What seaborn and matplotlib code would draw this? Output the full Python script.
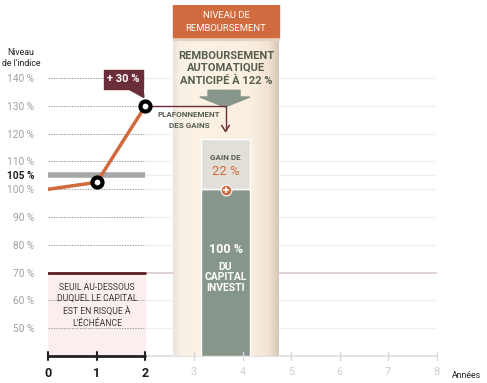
import numpy as np
import pandas as pd
import matplotlib
matplotlib.use("Agg")
import matplotlib.pyplot as plt
import seaborn as sns
from matplotlib.patches import Rectangle, Polygon

# data
years = [0, 1, 2]
index_level = [100, 102.5, 130]
grid_levels = [50, 60, 80, 90, 100, 110, 120, 130, 140]
ytick_levels = [50, 60, 70, 80, 90, 100, 105, 110, 120, 130, 140]
year_ticks = [0, 1, 2, 3, 4, 5, 6, 7, 8]
barrier = 70
reference_level = 105
capital = 100
gain_top = 118
gain_pct = 22
jump_pct = 30

sns.set_theme(style="white")
plt.rcParams['font.family'] = ['Roboto', 'DejaVu Sans']

ORANGE = '#cf6b3e'
GREEN = '#87968b'
MAROON = '#6a2e3a'
OLIVE = '#565c50'

fig = plt.figure(figsize=(4.87, 3.83), dpi=100)
ax = fig.add_axes([48.3 / 487, 27 / 383, 388.4 / 487, 351 / 383])
ax.set_xlim(0, 8)
ax.set_ylim(40, 166.3)
for s in ax.spines.values():
    s.set_visible(False)

# faint lines on the right side
for lv in grid_levels:
    ax.plot([2, 8], [lv, lv], color='#f3f0ec', lw=1, zorder=0)
ax.plot([2, 8], [reference_level, reference_level], color='#efefef', lw=1, zorder=0)
ax.plot([2, 8], [barrier, barrier], color='#dccbcb', lw=1.2, zorder=0)
ax.plot([2, 8], [40, 40], color='#dddddd', lw=1.2, zorder=0, clip_on=False)

# dotted grid on the observed period
for lv in grid_levels:
    ax.plot([0, 2], [lv, lv], color='#a0a0a0', lw=0.7, ls=(0, (1.5, 1.2)), zorder=1)

# risk zone under barrier
ax.add_patch(Rectangle((0, 40), 2, barrier - 40, color='#fbeeee', zorder=0.5))
ax.plot([0, 2], [barrier, barrier], color='#5a1c22', lw=2, zorder=2)
ax.text(1, 58.3, "SEUIL AU-DESSOUS\nDUQUEL LE CAPITAL\nEST EN RISQUE À\nL'ÉCHÉANCE",
        ha='center', va='center', fontsize=6.2, color='#3a3a3a', linespacing=1.4, zorder=3)

# reference band at 105
ax.plot([0, 2], [reference_level, reference_level], color='#a7a7a7', lw=4, zorder=2,
        solid_capstyle='butt')

# early redemption column with shaded edges
c0, c1 = 2.57, 4.75
pos = [0, 0.06, 0.2, 0.75, 0.9, 1]
reds = [0.92, 0.97, 0.985, 0.98, 0.95, 0.84]
grns = [0.89, 0.94, 0.95, 0.935, 0.895, 0.78]
blus = [0.86, 0.90, 0.90, 0.875, 0.83, 0.72]
u = np.linspace(0, 1, 200)
grad = np.dstack([np.interp(u, pos, reds), np.interp(u, pos, grns), np.interp(u, pos, blus)])
ax.imshow(grad, extent=[c0, c1, 40, 155], aspect='auto', zorder=3)
ax.add_patch(Rectangle((c0, 153.6), c1 - c0, 1.2, color='#e3d2c0', zorder=3.5))
ax.add_patch(Rectangle((c0, 154.7), c1 - c0, 11.6, color=ORANGE, zorder=4))
ax.text((c0 + c1) / 2, 160.3, "NIVEAU DE\nREMBOURSEMENT", ha='center', va='center',
        fontsize=6.8, color='white', linespacing=1.55, zorder=5)
ax.text((c0 + c1) / 2, 143.6, "REMBOURSEMENT\nAUTOMATIQUE\nANTICIPÉ À 122 %", ha='center',
        va='center', fontsize=8, fontweight='bold', color=OLIVE, linespacing=1.3, zorder=5)
ax.add_patch(Polygon([(3.29, 135.6), (3.95, 135.6), (3.95, 133.2), (4.15, 133.2),
                      (3.64, 129.6), (3.12, 133.2), (3.29, 133.2)],
                     closed=True, color=GREEN, zorder=5))

# bars: capital and gain
bars = pd.DataFrame({'x': [3.65, 3.65], 'bottom': [40, capital],
                     'h': [capital - 40, gain_top - capital], 'c': [GREEN, '#e2dfd9']})
for _, r in bars.iterrows():
    ax.bar(r['x'], r['h'], bottom=r['bottom'], width=1.0, color=r['c'], zorder=6)
ax.text(3.65, 111.6, "GAIN DE", ha='center', va='center', fontsize=5.8, fontweight='bold',
        color=OLIVE, zorder=7)
ax.text(3.65, 106.3, f"{gain_pct} %", ha='center', va='center', fontsize=9.5, color=ORANGE, zorder=7)
ax.scatter([3.65], [99.8], s=60, color=ORANGE, edgecolor='white', linewidth=0.8, zorder=8)
ax.scatter([3.65], [99.8], s=18, marker='+', color='white', linewidth=1.2, zorder=9)
ax.text(3.65, 78.4, f"{capital} %", ha='center', va='center', fontsize=9, fontweight='bold',
        color='white', zorder=7)
ax.text(3.65, 68.3, "DU\nCAPITAL\nINVESTI", ha='center', va='center', fontsize=7.5,
        fontweight='bold', color='white', linespacing=1.1, zorder=7)

# index path
df = pd.DataFrame({'annee': years, 'niveau': index_level})
sns.lineplot(data=df, x='annee', y='niveau', color=ORANGE, lw=2.5, ax=ax, zorder=10)
ax.scatter(years[1:], index_level[1:], s=85, color='black', zorder=11)
ax.scatter(years[1:], index_level[1:], s=10, color='white', zorder=12)

# cap arrow
ax.plot([2, 3.65, 3.65], [130, 130, 121.5], color=MAROON, lw=1, zorder=9)
ax.plot([3.57, 3.65, 3.73], [123, 120.8, 123], color=MAROON, lw=1.1, zorder=9)
ax.text(2.9, 124.8, "PLAFONNEMENT\nDES GAINS", ha='center', va='center', fontsize=5.8,
        fontweight='bold', color=OLIVE, linespacing=1.7, zorder=9)

# +30 % label
ax.add_patch(Rectangle((1.15, 136.2), 0.8, 6.8, color=MAROON, zorder=9))
ax.add_patch(Polygon([(1.63, 136.3), (1.95, 136.3), (1.97, 133.0)], closed=True,
                     color=MAROON, zorder=9))
ax.text(1.55, 139.6, f"+ {jump_pct} %", ha='center', va='center', fontsize=8,
        fontweight='bold', color='white', zorder=10)

# axes
ax.set_xlabel('')
ax.set_ylabel('')
ax.set_yticks(ytick_levels)
ax.set_yticklabels([f"{v} %" for v in ytick_levels])
ax.tick_params(axis='y', length=0, pad=10, labelsize=7.3, labelcolor='#a0a0a0')
for lab, v in zip(ax.get_yticklabels(), ytick_levels):
    if v == reference_level:
        lab.set_color('#222222')
        lab.set_fontweight('bold')
ax.set_xticks(year_ticks)
ax.set_xticklabels([str(y) for y in year_ticks])
ax.tick_params(axis='x', length=0, pad=8, labelsize=8, labelcolor='#d0d0d0')
for lab, y in zip(ax.get_xticklabels(), year_ticks):
    if y <= 2:
        lab.set_color('#1a1a1a')
        lab.set_fontweight('bold')
        lab.set_fontsize(9)

ax.plot([0, 2], [40, 40], color='#222222', lw=2, zorder=12, clip_on=False)
for y in year_ticks:
    col = '#222222' if y <= 2 else '#d8d8d8'
    lw = 1.5 if y <= 2 else 1
    ax.plot([y, y], [38.5, 41.5], color=col, lw=lw, zorder=12, clip_on=False)

fig.text(21 / 487, 1 - 58 / 383, "Niveau\nde l'indice", ha='center', va='center',
         fontsize=6.3, color='#222222', linespacing=1.4)
fig.text(467 / 487, 1 - 375 / 383, "Années", ha='center', va='center', fontsize=6.3,
         color='#222222')

fig.savefig('out.png', dpi=100)
